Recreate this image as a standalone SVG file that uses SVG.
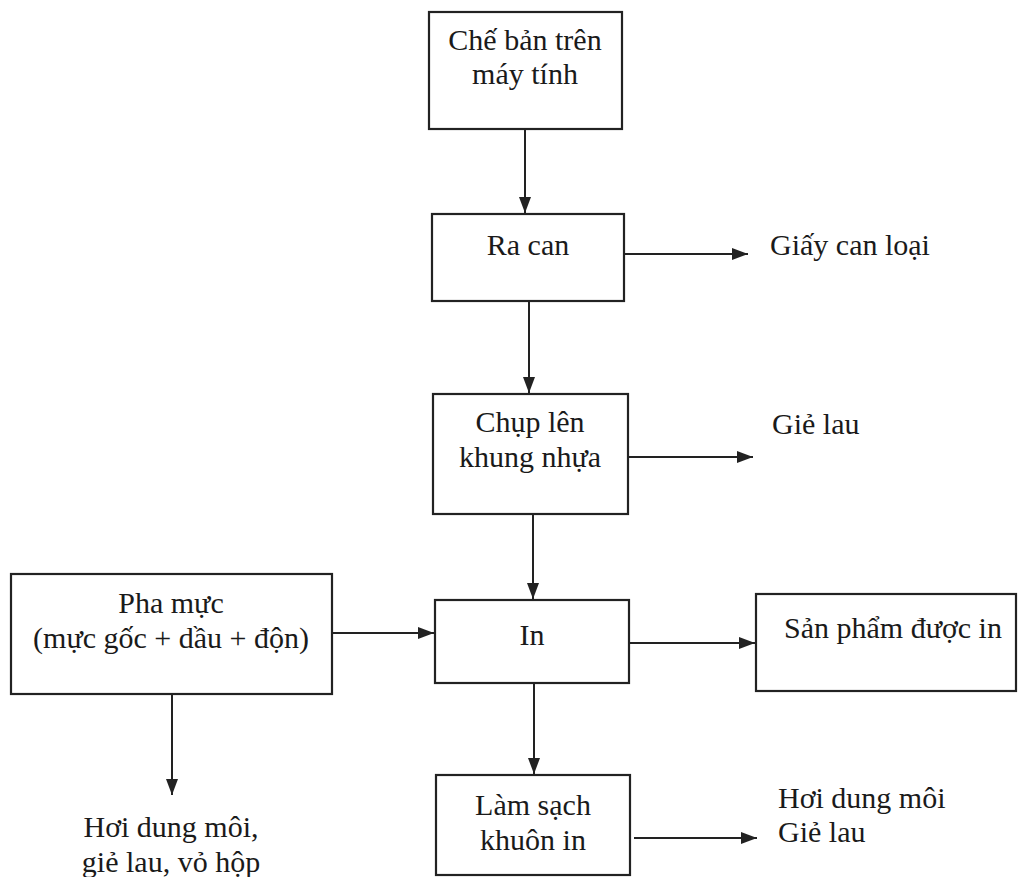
<svg xmlns="http://www.w3.org/2000/svg" width="1020" height="877" viewBox="0 0 1020 877">
<defs>
<style>
.box{fill:none;stroke:#222;stroke-width:2.2}
.t{font-family:"Liberation Serif","Times New Roman",serif;font-size:30px;fill:#1a1a1a}
.c{text-anchor:middle}
.ln{stroke:#222;stroke-width:2;fill:none;marker-end:url(#ah)}
</style>
<marker id="ah" markerUnits="userSpaceOnUse" markerWidth="16" markerHeight="12" refX="16" refY="6" orient="auto">
<path d="M0,0 L16,6 L0,12 z" fill="#222"/>
</marker>
</defs>
<rect width="1020" height="877" fill="#fff"/>
<g id="n1">
<rect class="box" x="429" y="12" width="193" height="117"/>
<text class="t c" x="525" y="50">Chế bản trên</text>
<text class="t c" x="525" y="84">máy tính</text>
</g>
<g id="n2">
<rect class="box" x="432" y="214" width="192" height="87"/>
<text class="t c" x="528" y="255">Ra can</text>
</g>
<g id="n3">
<rect class="box" x="433" y="394" width="195" height="120"/>
<text class="t c" x="530" y="432">Chụp lên</text>
<text class="t c" x="530" y="467">khung nhựa</text>
</g>
<g id="n4">
<rect class="box" x="435" y="600" width="194" height="83"/>
<text class="t c" x="532" y="645">In</text>
</g>
<g id="n5">
<rect class="box" x="436" y="775" width="194" height="100"/>
<text class="t c" x="533" y="815">Làm sạch</text>
<text class="t c" x="533" y="850">khuôn in</text>
</g>
<g id="n6">
<rect class="box" x="11" y="574" width="321" height="120"/>
<text class="t c" x="171" y="613">Pha mực</text>
<text class="t c" x="171" y="648">(mực gốc + dầu + độn)</text>
</g>
<g id="n7">
<rect class="box" x="756" y="594" width="260" height="97"/>
<text class="t" x="784" y="638">Sản phẩm được in</text>
</g>
<g id="o1"><text class="t" x="770" y="255">Giấy can loại</text></g>
<g id="o2"><text class="t" x="772" y="434">Giẻ lau</text></g>
<g id="o3"><text class="t" x="778" y="808">Hơi dung môi</text><text class="t" x="778" y="842">Giẻ lau</text></g>
<g id="o4"><text class="t c" x="171" y="837">Hơi dung môi,</text><text class="t c" x="171" y="872">giẻ lau, vỏ hộp</text></g>
<g id="connectors">
<line class="ln" x1="525" y1="129" x2="525" y2="213"/>
<line class="ln" x1="529" y1="301" x2="529" y2="393"/>
<line class="ln" x1="533" y1="514" x2="533" y2="599"/>
<line class="ln" x1="534" y1="683" x2="534" y2="774"/>
<line class="ln" x1="624" y1="254" x2="748" y2="254"/>
<line class="ln" x1="628" y1="457" x2="753" y2="457"/>
<line class="ln" x1="332" y1="633" x2="434" y2="633"/>
<line class="ln" x1="629" y1="643" x2="755" y2="643"/>
<line class="ln" x1="634" y1="838" x2="757" y2="838"/>
<line class="ln" x1="172" y1="694" x2="172" y2="795"/>
</g>
</svg>
